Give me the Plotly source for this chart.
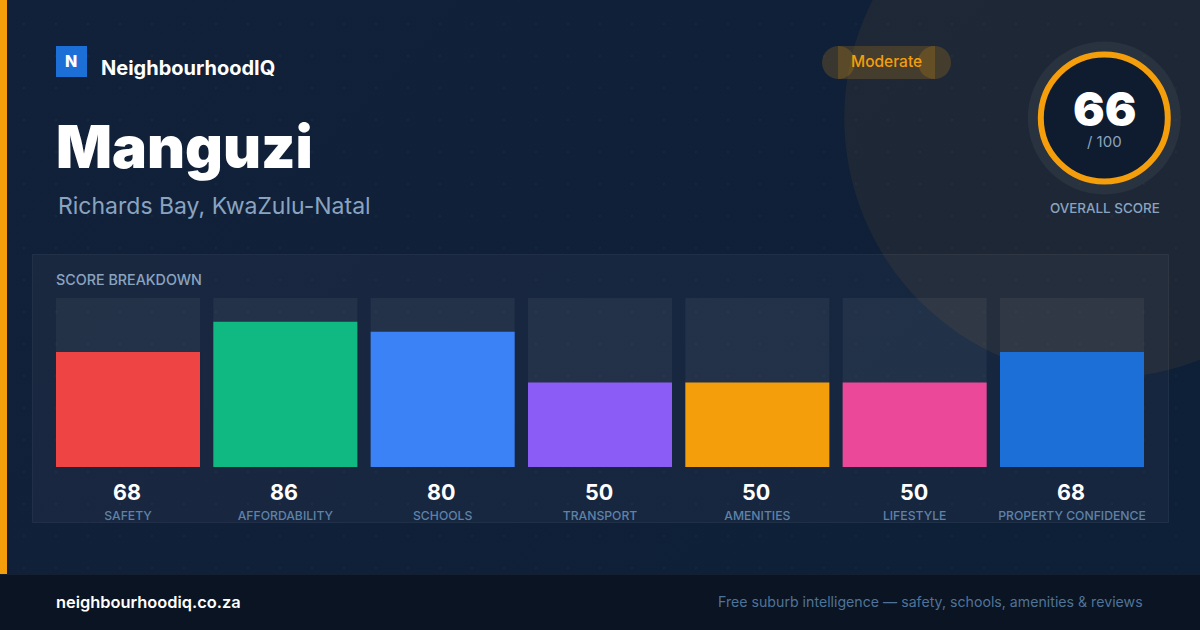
import base64
import plotly.graph_objects as go

# ---- data ----
categories = ["SAFETY", "AFFORDABILITY", "SCHOOLS", "TRANSPORT", "AMENITIES", "LIFESTYLE", "PROPERTY CONFIDENCE"]
scores = [68, 86, 80, 50, 50, 50, 68]
track_max = [100, 100, 100, 100, 100, 100, 100]
bar_colors = ["#ef4444", "#10b981", "#3b82f6", "#8b5cf6", "#f59e0b", "#ec4899", "#1d6fd8"]
overall_score = "66"
rating = "Moderate"
place = "Manguzi"
region = "Richards Bay, KwaZulu-Natal"

W, H = 1200, 630
FONT = "Inter"


def px(x):
    return x / W


def py(y):
    return 1 - y / H


svg = f"""<svg xmlns='http://www.w3.org/2000/svg' width='{W}' height='{H}' viewBox='0 0 {W} {H}'>
<defs><linearGradient id='g' x1='0' y1='0' x2='1' y2='0.5'>
<stop offset='0' stop-color='#12213a'/><stop offset='1' stop-color='#0e1f38'/></linearGradient>
<pattern id='d' x='0' y='0' width='32' height='32' patternUnits='userSpaceOnUse'>
<circle cx='24' cy='24' r='1' fill='#ffffff' fill-opacity='0.035'/></pattern></defs>
<rect width='{W}' height='{H}' fill='url(#g)'/><rect width='{W}' height='{H}' fill='url(#d)'/></svg>"""
bg = "data:image/svg+xml;base64," + base64.b64encode(svg.encode()).decode()


def rect(x0, y0, x1, y1, fill, line=None, lw=0, kind="rect", layer="below"):
    return dict(type=kind, xref="paper", yref="paper", x0=px(x0), x1=px(x1), y0=py(y1), y1=py(y0),
                fillcolor=fill, line=dict(color=line or "rgba(0,0,0,0)", width=lw), layer=layer)


cx, cy = 1104.3, 118
amber = "rgba(245,158,11,0.18)"
shapes = [
    rect(cx - 260, cy - 260, cx + 260, cy + 260, "rgba(245,158,11,0.07)", kind="circle"),
    rect(0, 0, 7, 574, "#f59e0b"),
    rect(0, 574, W, H, "#0a1422"),
    rect(0, 574, W, 575, "#141f31"),
    rect(32.5, 254.5, 1168.5, 522.5, "rgba(255,255,255,0.035)", "rgba(255,255,255,0.06)", 1),
    rect(56, 46, 87, 77, "#1d6fd8"),
    rect(838, 46, 935, 79, amber),
    rect(822, 46, 855, 79, amber, kind="circle"),
    rect(918, 46, 951, 79, amber, kind="circle"),
    rect(cx - 76.5, cy - 76.5, cx + 76.5, cy + 76.5, "rgba(255,255,255,0.05)", kind="circle"),
    rect(cx - 63.5, cy - 63.5, cx + 63.5, cy + 63.5, "#0f1b2f", "#f59e0b", 6, kind="circle"),
]


def text(s, x, y, size, color, weight=400, anchor="left"):
    return dict(text=s, x=px(x), y=py(y), xref="paper", yref="paper", xanchor=anchor, yanchor="middle",
                showarrow=False, borderpad=0, font=dict(family=FONT, size=size, color=color, weight=weight))


annotations = [
    text("N", 71, 61, 16, "#ffffff", 800, "center"),
    text("NeighbourhoodIQ", 99.5, 68, 20, "#ffffff", 700),
    text(place, 54.5, 146.5, 58.6, "#ffffff", 900),
    text(region, 57, 206.5, 23, "#8aa4c0", 400),
    text(rating, 886.5, 61.5, 15.5, "#f59e0b", 500, "center"),
    text(overall_score, 1104.5, 108, 47, "#ffffff", 900, "center"),
    text("/ 100", 1104.5, 141, 15, "#8aa4c0", 400, "center"),
    text("OVERALL SCORE", 1104.5, 208, 13.4, "#8aa4c0", 500, "center"),
    text("SCORE BREAKDOWN", 55, 279.5, 14.3, "#8aa4c0", 500),
    text("neighbourhoodiq.co.za", 55, 601.5, 16.4, "#ffffff", 600),
    text("Free suburb intelligence — safety, schools, amenities &amp; reviews", 1144, 601.5, 14.17, "#4f7398", 400, "right"),
]
for i, v in enumerate(scores):
    annotations.append(dict(text=str(v), x=i, xref="x", y=py(491.5), yref="paper", xanchor="center", yanchor="middle",
                            showarrow=False, borderpad=0, xshift=-1,
                            font=dict(family=FONT, size=21.5, color="#ffffff", weight=700)))

fig = go.Figure()
fig.add_bar(x=categories, y=track_max, width=0.9153, marker=dict(color="rgba(255,255,255,0.05)", line_width=0),
            hoverinfo="skip")
fig.add_bar(x=categories, y=scores, width=0.9153, marker=dict(color=bar_colors, line_width=0), hoverinfo="skip")

fig.update_layout(
    width=W, height=H, autosize=False, margin=dict(l=0, r=0, t=0, b=0, pad=0),
    paper_bgcolor="#11213a", plot_bgcolor="rgba(0,0,0,0)", showlegend=False, barmode="overlay",
    images=[dict(source=bg, xref="paper", yref="paper", x=0, y=1, sizex=1, sizey=1, sizing="stretch",
                 xanchor="left", yanchor="top", layer="below")],
    shapes=shapes, annotations=annotations,
    xaxis=dict(domain=[px(56), px(1144)], range=[-0.45765, 6.45765], type="category", categoryorder="array",
               categoryarray=categories, showgrid=False, zeroline=False, showline=False, ticks="",
               tickangle=0, ticklabelstandoff=40, automargin=False,
               tickfont=dict(family=FONT, size=12.2, color="#5f82a8", weight=500)),
    yaxis=dict(domain=[py(467), py(298)], range=[0, 100], showgrid=False, zeroline=False, showline=False,
               showticklabels=False, ticks="", automargin=False),
)
fig.write_html("out.html", config=dict(displayModeBar=False, responsive=False),
               post_script="document.documentElement.style.overflow='hidden';document.body.style.overflow='hidden';document.body.style.margin='0';document.documentElement.style.background='#11213a';")
